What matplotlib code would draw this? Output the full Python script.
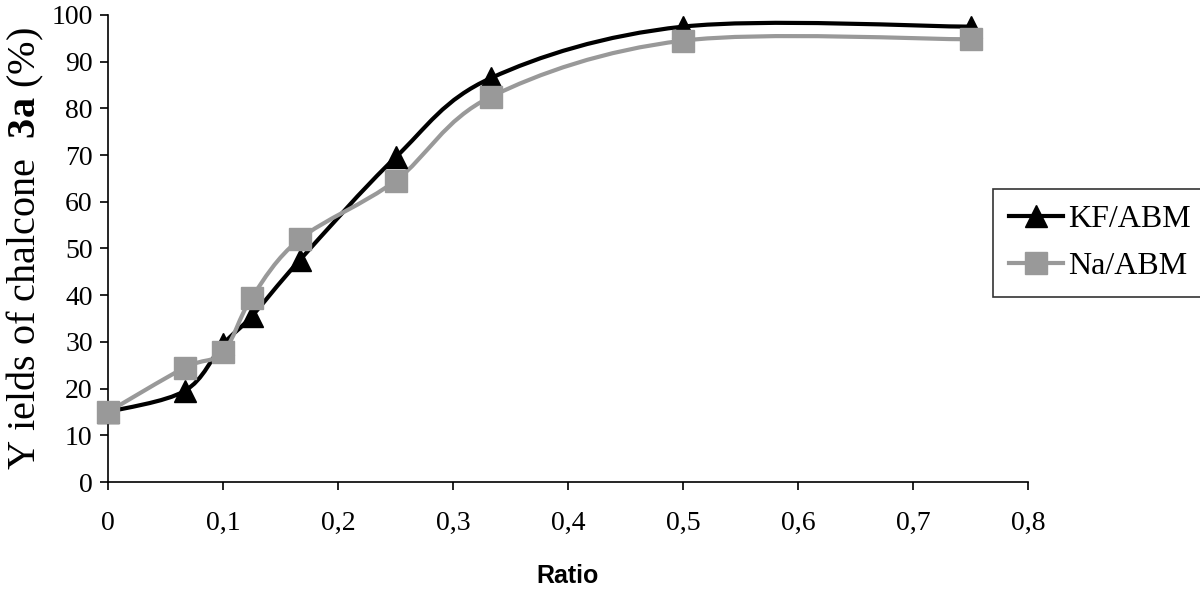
import numpy as np
import matplotlib
matplotlib.use("Agg")
import matplotlib.pyplot as plt
from matplotlib.path import Path
from matplotlib.patches import PathPatch
from matplotlib.lines import Line2D

plt.rcParams['font.family'] = 'Liberation Serif'
plt.rcParams['mathtext.fontset'] = 'custom'
plt.rcParams['mathtext.rm'] = 'Liberation Serif'
plt.rcParams['mathtext.bf'] = 'Liberation Serif:bold'

# data
ratio = [0, 0.0667, 0.1, 0.125, 0.1667, 0.25, 0.333, 0.5, 0.75]
kf_abm = [15, 19.5, 29.5, 35.5, 47.5, 69.5, 86.5, 97.5, 97.5]
na_abm = [15, 24.5, 27.8, 39.5, 52, 64.5, 82.5, 94.5, 94.8]
xticks = [0, 0.1, 0.2, 0.3, 0.4, 0.5, 0.6, 0.7, 0.8]
yticks = list(range(0, 101, 10))


def smooth_path(xs, ys):
    # excel style smoothed line: bezier segments through the points
    p = np.column_stack([xs, ys]).astype(float)
    verts = [p[0]]
    codes = [Path.MOVETO]
    n = len(p)
    for i in range(n - 1):
        p0 = p[i - 1] if i > 0 else p[i]
        p3 = p[i + 2] if i + 2 < n else p[i + 1]
        c1 = p[i] + (p[i + 1] - p0) / 6
        c2 = p[i + 1] - (p3 - p[i]) / 6
        verts += [c1, c2, p[i + 1]]
        codes += [Path.CURVE4] * 3
    return Path(verts, codes)


fig = plt.figure(figsize=(12, 5.99), dpi=100)
ax = fig.add_axes([0.09, 0.1953, 0.7667, 0.7797])

grey = "#999999"
for ys, col, mk in [(kf_abm, "black", "^"), (na_abm, grey, "s")]:
    ax.add_patch(PathPatch(smooth_path(ratio, ys), facecolor="none",
                           edgecolor=col, lw=3, capstyle="round", zorder=2))
    ax.plot(ratio, ys, linestyle="none", marker=mk, color=col,
            markersize=16, zorder=3, clip_on=False)

ax.set_xlim(0, 0.8)
ax.set_ylim(0, 100)
ax.set_xticks(xticks)
ax.set_xticklabels([("%g" % t).replace(".", ",") for t in xticks])
ax.set_yticks(yticks)
ax.tick_params(direction="out", length=6, width=1.2, labelsize=20)
ax.tick_params(axis="x", pad=15)
ax.tick_params(axis="y", pad=5)

ax.spines.right.set_visible(False)
ax.spines.top.set_visible(False)
ax.spines.left.set_linewidth(1.2)
ax.spines.bottom.set_linewidth(1.2)

ax.set_xlabel("Ratio", family="Liberation Sans", fontweight="bold",
              fontsize=18, labelpad=20)
ax.set_ylabel(r"Y ields of chalcone  $\mathbf{3a}$ (%)", fontsize=29, labelpad=4)

handles = [
    Line2D([], [], color="black", lw=3, marker="^", markersize=16),
    Line2D([], [], color=grey, lw=3, marker="s", markersize=16),
]
leg = fig.legend(handles, ["KF/ABM", "Na/ABM"], loc="upper left",
                 bbox_to_anchor=(0.8275, 0.6845), fontsize=23, frameon=True,
                 fancybox=False, edgecolor="black", handlelength=1.7,
                 handletextpad=0.15, borderpad=0.5, labelspacing=0.55,
                 borderaxespad=0)
leg.get_frame().set_linewidth(1.2)

plt.savefig("out.png", dpi=100)
